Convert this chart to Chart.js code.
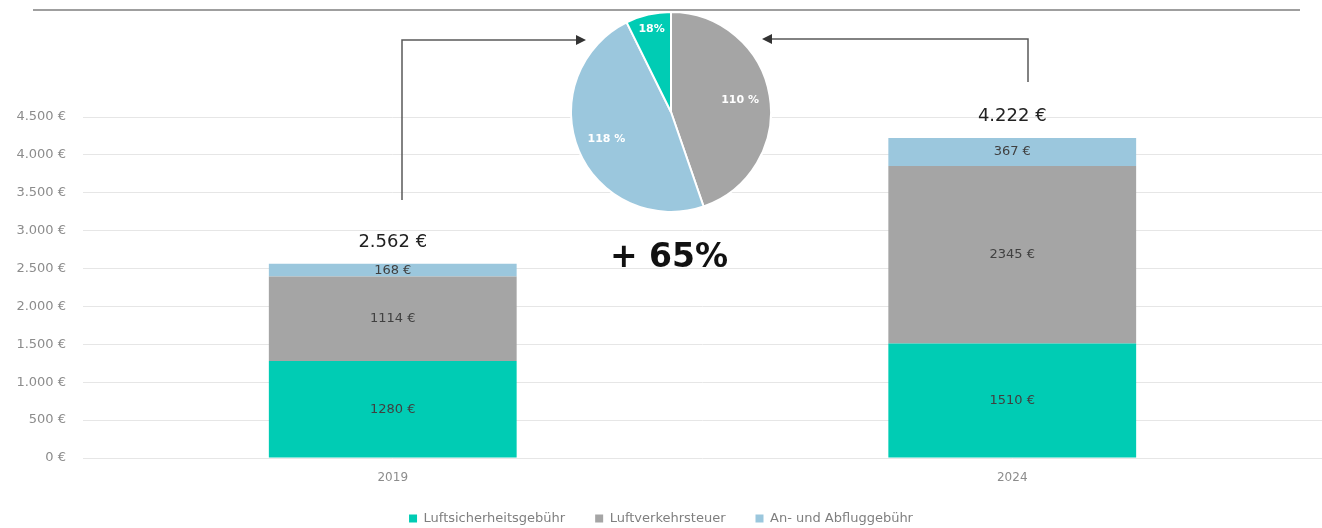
<!DOCTYPE html>
<html>
<head>
<meta charset="utf-8">
<script src="https://cdn.jsdelivr.net/npm/chart.js@4"></script>
<style>
  html, body { margin: 0; padding: 0; background: #fff; }
  #wrap { position: relative; width: 1322px; height: 528px; }
  #bars { position: absolute; left: 0; top: 0; }
  #pie { position: absolute; left: 570px; top: 11px; }
</style>
</head>
<body>
<div id="wrap">
  <canvas id="bars" width="1322" height="528"></canvas>
  <canvas id="pie" width="202" height="202"></canvas>
</div>
<script>
"use strict";

// data
const years = ['2019', '2024'];
const seriesNames = ['Luftsicherheitsgebühr', 'Luftverkehrsteuer', 'An- und Abfluggebühr'];
const sicherheit = [1280, 1510];
const verkehrsteuer = [1114, 2345];
const abflug = [168, 367];
const totals = [2562, 4222];

// growth per fee (pie): Luftverkehrsteuer, An- und Abfluggebühr, Luftsicherheitsgebühr
const growthLabels = ['110 %', '118 %', '18%'];
const growthValues = [110, 118, 18];
const growthTotal = '+ 65%';

const teal = 'rgb(0, 204, 180)';
const grey = 'rgb(165, 165, 165)';
const blue = 'rgb(155, 199, 221)';

const fontName = '"DejaVu Sans", sans-serif';
const fmt = (v) => v.toString().replace(/\B(?=(\d{3})+(?!\d))/g, '.');

Chart.defaults.font.family = fontName;
Chart.defaults.color = '#8c8c8c';

// shrink the legend box so it sits low, like the original
const legendFit = {
    id: 'legendFit',
    afterInit(chart) {
        const lg = chart.legend;
        const orig = lg.fit;
        lg.fit = function () {
            orig.call(this);
            this.height = 46;
        };
    }
};

// labels inside bars + total on top + annotations
const barLabels = {
    id: 'barLabels',
    afterDatasetsDraw(chart) {
        const c = chart.ctx;
        c.save();
        c.textAlign = 'center';
        c.textBaseline = 'middle';
        c.font = '13px ' + fontName;
        c.fillStyle = '#404040';
        chart.data.datasets.forEach((ds, i) => {
            chart.getDatasetMeta(i).data.forEach((bar, j) => {
                const mid = (bar.y + bar.base) / 2;
                c.fillText(ds.data[j] + ' €', bar.x, mid);
            });
        });
        // totals above each stack
        const top = chart.getDatasetMeta(2).data;
        const y = chart.scales.y;
        c.font = '18px ' + fontName;
        c.fillStyle = '#222';
        totals.forEach((t, j) => {
            c.fillText(fmt(t) + ' €', top[j].x, y.getPixelForValue(t) - 22);
        });

        // top rule
        c.strokeStyle = '#7f7f7f';
        c.lineWidth = 1.5;
        c.beginPath();
        c.moveTo(33, 10);
        c.lineTo(1300, 10);
        c.stroke();

        // arrows towards the pie
        c.strokeStyle = '#595959';
        c.fillStyle = '#333';
        c.lineWidth = 1.5;
        c.beginPath();
        c.moveTo(402, 200);
        c.lineTo(402, 40);
        c.lineTo(578, 40);
        c.stroke();
        c.beginPath();
        c.moveTo(586, 40);
        c.lineTo(576, 35);
        c.lineTo(576, 45);
        c.closePath();
        c.fill();

        c.beginPath();
        c.moveTo(1028, 82);
        c.lineTo(1028, 39);
        c.lineTo(770, 39);
        c.stroke();
        c.beginPath();
        c.moveTo(762, 39);
        c.lineTo(772, 34);
        c.lineTo(772, 44);
        c.closePath();
        c.fill();

        // big growth figure
        c.font = 'bold 33px ' + fontName;
        c.fillStyle = '#111';
        c.fillText(growthTotal, 669, 258);
        c.restore();
    }
};

new Chart(document.querySelector('#bars'), {
    type: 'bar',
    data: {
        labels: years,
        datasets: [
            { label: seriesNames[0], data: sicherheit, backgroundColor: teal },
            { label: seriesNames[1], data: verkehrsteuer, backgroundColor: grey },
            { label: seriesNames[2], data: abflug, backgroundColor: blue }
        ]
    },
    options: {
        responsive: false,
        animation: false,
        layout: { padding: { top: 117, right: 0, left: 0, bottom: 0 } },
        datasets: { bar: { categoryPercentage: 0.8, barPercentage: 0.5 } },
        scales: {
            x: {
                stacked: true,
                afterFit(scale) { scale.height = 24; },
                grid: { display: false, drawTicks: false },
                border: { display: false },
                ticks: { font: { size: 12 }, color: '#8c8c8c', padding: 13 }
            },
            y: {
                stacked: true,
                min: 0,
                max: 4500,
                afterFit(scale) { scale.width = 83; },
                grid: { color: '#e6e6e6', drawTicks: false },
                border: { display: false },
                ticks: {
                    stepSize: 500,
                    padding: 17,
                    font: { size: 13 },
                    color: '#8c8c8c',
                    callback: (v) => fmt(v) + ' €'
                }
            }
        },
        plugins: {
            legend: {
                position: 'bottom',
                labels: { boxWidth: 8, boxHeight: 8, padding: 30, font: { size: 13 }, color: '#7f7f7f' }
            },
            tooltip: { enabled: false }
        }
    },
    plugins: [legendFit, barLabels]
});

// percentages on the pie slices
const pieLabels = {
    id: 'pieLabels',
    afterDatasetsDraw(chart) {
        const c = chart.ctx;
        c.save();
        c.textAlign = 'center';
        c.textBaseline = 'middle';
        c.font = 'bold 11px ' + fontName;
        c.fillStyle = '#fff';
        const sum = growthValues.reduce((a, b) => a + b, 0);
        chart.getDatasetMeta(0).data.forEach((arc, i) => {
            const a = (arc.startAngle + arc.endAngle) / 2;
            const f = growthValues[i] / sum < 0.1 ? 0.85 : 0.7;
            const r = arc.outerRadius * f;
            c.fillText(growthLabels[i], arc.x + Math.cos(a) * r, arc.y + Math.sin(a) * r);
        });
        c.restore();
    }
};

new Chart(document.querySelector('#pie'), {
    type: 'pie',
    data: {
        labels: [seriesNames[1], seriesNames[2], seriesNames[0]],
        datasets: [{
            data: growthValues,
            backgroundColor: [grey, blue, teal],
            borderColor: '#fff',
            borderWidth: 2
        }]
    },
    options: {
        responsive: false,
        animation: false,
        layout: { padding: 0 },
        plugins: { legend: { display: false }, tooltip: { enabled: false } }
    },
    plugins: [pieLabels]
});
</script>
</body>
</html>
